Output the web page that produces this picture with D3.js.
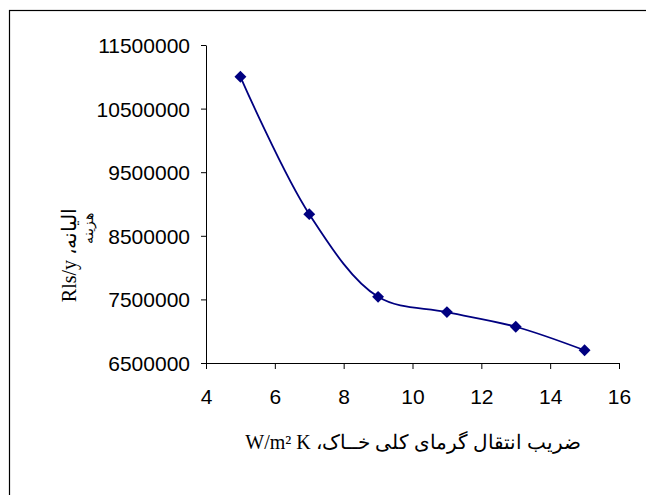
<!DOCTYPE html>
<html>
<head>
<meta charset="utf-8">
<script src="https://cdn.jsdelivr.net/npm/d3@7"></script>
<style>
  body { margin: 0; background: #fff; }
  .axis text { font-family: "Liberation Sans", Arial, sans-serif; font-size: 21px; fill: #000; }
  .axis path, .axis line { stroke: #000; }
</style>
</head>
<body>
<div id="chart"></div>
<script>
const xValues = [5, 7, 9, 11, 13, 15];
const costValues = [11000000, 8840000, 7540000, 7300000, 7070000, 6700000];
const xTicks = [4, 6, 8, 10, 12, 14, 16];
const yTicks = [6500000, 7500000, 8500000, 9500000, 10500000, 11500000];

const xTitle = "ضریب انتقال گرمای کلی خــاک، W/m² K";

const W = 646, H = 495;
const margin = {top: 45, left: 206},
    width = 413,
    height = 318;

const svg = d3.select("#chart")
  .append("svg")
  .attr("width", W)
  .attr("height", H);

// outer frame (only left/top edges fall inside the picture)
svg.append("rect")
  .attr("x", 9.5).attr("y", 10.5)
  .attr("width", 660).attr("height", 520)
  .attr("fill", "none")
  .attr("stroke", "#000")
  .attr("stroke-width", 1.2);

const g = svg.append("g")
  .attr("transform", "translate(" + margin.left + "," + margin.top + ")");

let x = d3.scaleLinear().domain([4, 16]).range([0, width]),
    y = d3.scaleLinear().domain([6500000, 11500000]).range([height, 0]);

g.append("g")
  .attr("class", "x axis")
  .attr("transform", "translate(0," + height + ")")
  .call(d3.axisBottom(x).tickValues(xTicks).tickSize(6).tickSizeOuter(0).tickPadding(20));

g.append("g")
  .attr("class", "y axis")
  .call(d3.axisLeft(y).tickValues(yTicks).tickFormat(d3.format("d")).tickSize(5).tickSizeOuter(0).tickPadding(11));

g.selectAll(".axis text").attr("dy", null).attr("dominant-baseline", "central");
g.selectAll(".x.axis text").attr("dominant-baseline", "hanging");

const data = xValues.map((d, i) => ({x: d, y: costValues[i]}));

const line = d3.line()
  .x(d => x(d.x))
  .y(d => y(d.y))
  .curve(d3.curveCatmullRom);

g.append("path")
  .datum(data)
  .attr("fill", "none")
  .attr("stroke", "#000080")
  .attr("stroke-width", 1.8)
  .attr("d", line);

g.selectAll(".pt")
  .data(data)
  .enter()
  .append("path")
  .attr("class", "pt")
  .attr("d", d3.symbol(d3.symbolDiamond2, 90))
  .attr("transform", d => "translate(" + x(d.x) + "," + y(d.y) + ")")
  .attr("fill", "#000080");

// x axis title
svg.append("text")
  .attr("x", 413)
  .attr("y", 449)
  .attr("text-anchor", "middle")
  .attr("direction", "rtl")
  .style("font-family", "'Liberation Serif', 'Times New Roman', serif")
  .style("font-size", "20px")
  .text(xTitle);

// y axis title, rotated
svg.append("text")
  .attr("transform", "translate(76,255) rotate(-90)")
  .attr("text-anchor", "middle")
  .attr("direction", "rtl")
  .style("font-family", "'Liberation Serif', 'Times New Roman', serif")
  .style("font-size", "20px")
  .text("الیانه، Rls/y");

// stray fragment of the title, squeezed beside the tick labels
svg.append("text")
  .attr("transform", "translate(93,228) rotate(-90)")
  .attr("text-anchor", "middle")
  .attr("direction", "rtl")
  .style("font-family", "'Liberation Serif', 'Times New Roman', serif")
  .style("font-size", "14px")
  .text("هزینه");
</script>
</body>
</html>
